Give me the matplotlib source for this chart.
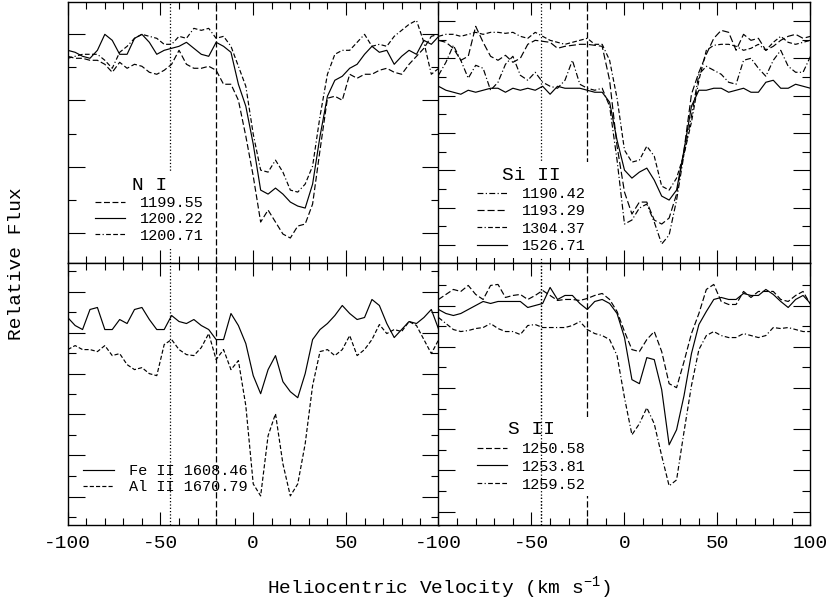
import matplotlib
matplotlib.use("Agg")
import matplotlib.pyplot as plt

plt.rcParams["font.family"] = ["Liberation Mono", "DejaVu Sans Mono"]
plt.rcParams["axes.unicode_minus"] = False
plt.rcParams["mathtext.default"] = "regular"

velocity = [-100, -96, -92, -88, -84, -80, -76, -72, -68, -64, -60, -56, -52,
            -48, -44, -40, -36, -32, -28, -24, -20, -16, -12, -8, -4, 0,
            4, 8, 12, 16, 20, 24, 28, 32, 36, 40, 44, 48, 52,
            56, 60, 64, 68, 72, 76, 80, 84, 88, 92, 96, 100]

# N I
ni_1199 = [0.97, 0.96, 0.96, 0.95, 0.95, 0.93, 0.89, 0.94, 0.91, 0.93, 0.92, 0.89, 0.88,
           0.90, 0.93, 1.00, 0.93, 0.91, 0.91, 0.92, 0.90, 0.83, 0.83, 0.75, 0.57, 0.37,
           0.14, 0.20, 0.14, 0.08, 0.06, 0.12, 0.13, 0.23, 0.50, 0.76, 0.77, 0.75, 0.88,
           0.86, 0.88, 0.88, 0.90, 0.91, 0.89, 0.88, 0.93, 0.97, 1.01, 1.07, 1.08]
ni_1200a = [1.00, 0.99, 0.97, 0.96, 1.00, 1.08, 1.05, 0.98, 0.98, 1.06, 1.08, 1.04, 0.98,
            1.00, 1.01, 1.02, 1.04, 1.01, 0.98, 0.97, 1.04, 1.02, 0.99, 0.83, 0.72, 0.53,
            0.30, 0.28, 0.31, 0.28, 0.24, 0.22, 0.21, 0.33, 0.57, 0.77, 0.85, 0.87, 0.91,
            0.93, 0.98, 1.02, 0.99, 1.00, 0.93, 0.97, 1.00, 0.98, 1.05, 1.03, 1.07]
ni_1200b = [0.96, 0.97, 0.98, 0.98, 0.98, 0.95, 0.91, 0.99, 1.02, 1.06, 1.08, 1.07, 1.06,
            1.03, 1.03, 1.07, 1.06, 1.11, 1.10, 1.11, 1.06, 1.07, 1.02, 0.92, 0.82, 0.58,
            0.40, 0.39, 0.45, 0.39, 0.30, 0.29, 0.33, 0.42, 0.67, 0.88, 0.98, 1.00, 1.00,
            1.04, 1.08, 1.02, 1.03, 1.02, 1.07, 1.10, 1.13, 1.15, 1.04, 0.88, 0.91]

# Si II
si_1190 = [0.875, 0.94, 1.025, 0.95, 0.86, 0.925, 0.91, 0.80, 0.84, 0.93, 0.97, 0.875, 0.85,
           0.89, 0.84, 0.82, 0.81, 0.85, 0.95, 0.83, 0.81, 0.80, 0.81, 0.72, 0.45, 0.13,
           0.15, 0.21, 0.23, 0.14, 0.03, 0.075, 0.25, 0.48, 0.67, 0.88, 0.92, 0.90, 0.88,
           0.84, 0.83, 0.95, 0.96, 0.91, 0.87, 0.95, 1.00, 0.92, 0.89, 0.89, 0.97]
si_1193 = [1.05, 1.04, 1.01, 0.95, 0.97, 1.12, 1.04, 0.97, 0.95, 0.975, 0.94, 0.96, 1.03,
           1.05, 1.045, 1.04, 1.01, 1.02, 1.025, 1.03, 1.03, 1.025, 1.02, 0.85, 0.52, 0.29,
           0.18, 0.24, 0.24, 0.15, 0.13, 0.16, 0.28, 0.50, 0.78, 0.89, 0.98, 1.06, 1.10,
           1.09, 1.00, 1.08, 1.05, 1.06, 1.00, 1.02, 1.05, 1.07, 1.08, 1.06, 1.07]
si_1304 = [1.07, 1.08, 1.08, 1.07, 1.08, 1.09, 1.08, 1.09, 1.09, 1.085, 1.09, 1.07, 1.06,
           1.09, 1.07, 1.05, 1.04, 1.03, 1.04, 1.05, 1.06, 1.03, 1.03, 0.95, 0.76, 0.50,
           0.44, 0.45, 0.52, 0.47, 0.32, 0.30, 0.36, 0.48, 0.64, 0.85, 1.00, 1.025, 1.03,
           1.03, 1.02, 1.00, 1.01, 1.03, 1.00, 1.04, 1.07, 1.04, 1.03, 1.04, 1.05]
si_1526 = [0.82, 0.80, 0.79, 0.78, 0.80, 0.79, 0.80, 0.81, 0.81, 0.79, 0.81, 0.80, 0.81,
           0.80, 0.82, 0.78, 0.82, 0.81, 0.81, 0.81, 0.80, 0.79, 0.79, 0.74, 0.55, 0.40,
           0.36, 0.39, 0.41, 0.35, 0.27, 0.25, 0.30, 0.50, 0.72, 0.80, 0.80, 0.81, 0.81,
           0.79, 0.80, 0.81, 0.79, 0.79, 0.84, 0.85, 0.81, 0.81, 0.83, 0.82, 0.81]

# Fe II / Al II
fe_1608 = [0.97, 0.93, 0.91, 1.01, 1.02, 0.91, 0.91, 0.96, 0.94, 1.01, 1.02, 0.96, 0.91,
           0.91, 0.98, 0.95, 0.94, 0.96, 0.93, 0.91, 0.86, 0.86, 0.99, 0.93, 0.84, 0.68,
           0.59, 0.71, 0.78, 0.65, 0.60, 0.57, 0.69, 0.86, 0.91, 0.94, 0.98, 1.03, 0.99,
           0.96, 0.97, 1.06, 1.03, 0.94, 0.87, 0.91, 0.95, 0.94, 0.97, 1.01, 0.91]
al_1670 = [0.81, 0.83, 0.81, 0.81, 0.80, 0.83, 0.78, 0.79, 0.735, 0.71, 0.72, 0.69, 0.68,
           0.835, 0.86, 0.81, 0.785, 0.78, 0.82, 0.89, 0.76, 0.81, 0.71, 0.755, 0.53, 0.14,
           0.08, 0.38, 0.49, 0.24, 0.08, 0.14, 0.34, 0.63, 0.80, 0.81, 0.78, 0.81, 0.88,
           0.78, 0.81, 0.86, 0.935, 0.89, 0.91, 0.90, 0.95, 0.93, 0.86, 0.79, 0.86]

# S II
s_1250 = [1.06, 1.085, 1.11, 1.10, 1.13, 1.085, 1.06, 1.13, 1.135, 1.07, 1.08, 1.085, 1.06,
          1.08, 1.105, 1.08, 1.055, 1.06, 1.06, 1.055, 1.065, 1.08, 1.09, 1.06, 1.00, 0.90,
          0.81, 0.80, 0.86, 0.90, 0.80, 0.64, 0.62, 0.75, 0.89, 0.99, 1.11, 1.135, 1.05,
          1.035, 1.035, 1.10, 1.07, 1.10, 1.10, 1.10, 1.06, 1.05, 1.08, 1.10, 1.035]
s_1253 = [1.01, 0.99, 0.98, 0.99, 1.01, 1.03, 1.05, 1.04, 1.05, 1.05, 1.05, 1.05, 1.02,
          1.03, 1.04, 1.12, 1.06, 1.08, 1.08, 1.04, 1.01, 1.05, 1.06, 1.04, 0.99, 0.87,
          0.66, 0.64, 0.77, 0.76, 0.61, 0.335, 0.41, 0.58, 0.79, 0.935, 1.00, 1.06, 1.07,
          1.06, 1.06, 1.09, 1.08, 1.08, 1.11, 1.085, 1.05, 1.02, 1.06, 1.08, 1.04]
s_1259 = [0.97, 0.94, 0.91, 0.90, 0.905, 0.915, 0.92, 0.94, 0.915, 0.90, 0.90, 0.885, 0.93,
          0.935, 0.92, 0.92, 0.92, 0.92, 0.93, 0.95, 0.91, 0.89, 0.88, 0.86, 0.78, 0.57,
          0.385, 0.44, 0.52, 0.44, 0.28, 0.13, 0.16, 0.40, 0.63, 0.81, 0.88, 0.90, 0.88,
          0.87, 0.87, 0.89, 0.88, 0.87, 0.88, 0.92, 0.915, 0.92, 0.91, 0.90, 0.90]

v_dotted = -45
v_dashed = -20

DASH = (0, (5, 2.2))
LONGDASH = (0, (6, 2.5))
SHORTDASH = (0, (3.5, 1.8))
DASHDOT = (0, (5, 2, 1, 2))
DASHDOT3 = (0, (4, 2, 1, 2, 4, 2, 4, 2))

fig = plt.figure(figsize=(8.3, 6.0), dpi=100)
ax_tl = fig.add_axes([0.0816, 0.5617, 0.447, 0.435])
ax_tr = fig.add_axes([0.5283, 0.5617, 0.4482, 0.435])
ax_bl = fig.add_axes([0.0816, 0.125, 0.447, 0.4367])
ax_br = fig.add_axes([0.5283, 0.125, 0.4482, 0.4367])


def setup(ax, ymajor, yminor, xlabels):
    ax.set_xlim(-100, 100)
    ax.set_ylim(-0.065, 1.242)
    ax.set_xticks([-100, -50, 0, 50, 100])
    ax.set_xticks(range(-100, 101, 10), minor=True)
    ax.set_yticks(ymajor)
    ax.set_yticks(yminor, minor=True)
    ax.tick_params(which="both", direction="in", top=True, right=True,
                   labelleft=False, width=0.8, colors="black")
    ax.tick_params(axis="x", which="major", length=9.5)
    ax.tick_params(axis="x", which="minor", length=5)
    ax.tick_params(axis="y", which="major", length=12)
    ax.tick_params(axis="y", which="minor", length=6)
    if xlabels is None:
        ax.tick_params(labelbottom=False)
    else:
        ax.set_xticklabels(xlabels)
        ax.tick_params(axis="x", labelsize=14, pad=7)
    for s in ax.spines.values():
        s.set_linewidth(1.0)


setup(ax_tl, [0.0833, 0.4167, 0.75, 1.0833], [0.25, 0.5833, 0.9167], None)
setup(ax_tr, [0.025, 0.212, 0.399, 0.586, 0.773, 0.96, 1.147],
      [0.1185, 0.3055, 0.4925, 0.6795, 0.8665, 1.0535], None)
setup(ax_bl, [0.077, 0.282, 0.488, 0.69, 0.893, 1.098],
      [-0.023, 0.18, 0.385, 0.588, 0.793, 0.997, 1.2],
      ["-100", "-50", "0", "50", ""])
setup(ax_br, [0.002, 0.207, 0.413, 0.618, 0.823, 1.027],
      [0.105, 0.31, 0.515, 0.722, 0.927, 1.132],
      ["-100", "-50", "0", "50", "100"])

lw = 0.85
for ax in (ax_tl, ax_tr, ax_bl, ax_br):
    ax.axvline(v_dotted, color="k", ls=":", lw=0.9, zorder=1)
    ax.axvline(v_dashed, color="k", ls=DASH, lw=0.9, zorder=1)

# top left: N I
ax_tl.plot(velocity, ni_1199, color="k", lw=lw, ls=DASH, label="1199.55")
ax_tl.plot(velocity, ni_1200a, color="k", lw=lw, ls="-", label="1200.22")
ax_tl.plot(velocity, ni_1200b, color="k", lw=lw, ls=DASHDOT3, label="1200.71")

# top right: Si II
ax_tr.plot(velocity, si_1190, color="k", lw=lw, ls=DASHDOT, label="1190.42")
ax_tr.plot(velocity, si_1193, color="k", lw=lw, ls=LONGDASH, label="1193.29")
ax_tr.plot(velocity, si_1304, color="k", lw=lw, ls=DASHDOT3, label="1304.37")
ax_tr.plot(velocity, si_1526, color="k", lw=lw, ls="-", label="1526.71")

# bottom left: Fe II, Al II
ax_bl.plot(velocity, fe_1608, color="k", lw=lw, ls="-", label="Fe II 1608.46")
ax_bl.plot(velocity, al_1670, color="k", lw=lw, ls=SHORTDASH, label="Al II 1670.79")

# bottom right: S II
ax_br.plot(velocity, s_1250, color="k", lw=lw, ls=DASH, label="1250.58")
ax_br.plot(velocity, s_1253, color="k", lw=lw, ls="-", label="1253.81")
ax_br.plot(velocity, s_1259, color="k", lw=lw, ls=DASHDOT3, label="1259.52")


def add_legend(ax, title, anchor, spacing=0.15, frame=True):
    leg = ax.legend(loc="lower left", bbox_to_anchor=anchor, fontsize=11,
                    title=title, title_fontsize=14, handlelength=2.0,
                    handletextpad=1.0, labelspacing=spacing, borderpad=0.3,
                    borderaxespad=0, frameon=frame, fancybox=False)
    if frame:
        leg.get_frame().set_facecolor("white")
        leg.get_frame().set_edgecolor("none")
        leg.get_frame().set_alpha(1)
    return leg


add_legend(ax_tl, "N I", (0.06, 0.06))
add_legend(ax_tr, "Si II", (0.09, 0.02), spacing=0.22)
add_legend(ax_bl, None, (0.03, 0.1), frame=False)
add_legend(ax_br, "S II", (0.09, 0.11), spacing=0.25)
# the dotted line is drawn over the S II legend in the original
ax_br.axvline(v_dotted, color="k", ls=":", lw=0.9, zorder=10)

fig.text(0.529, 0.02, "Heliocentric Velocity (km s$^{-1}$)", ha="center",
         va="center", fontsize=14)
fig.text(0.02, 0.56, "Relative Flux", rotation=90, ha="center", va="center",
         fontsize=14)

fig.savefig("out.png", dpi=100)
